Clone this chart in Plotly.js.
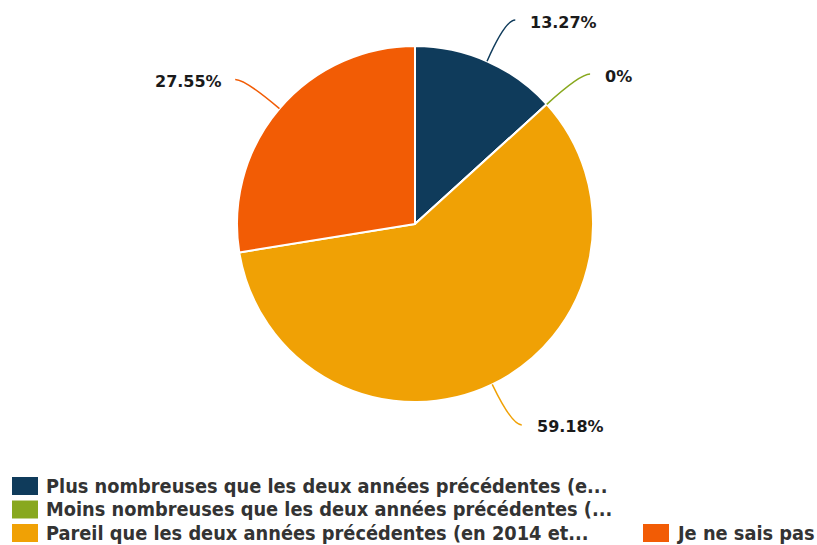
<!DOCTYPE html>
<html>
<head>
<meta charset="utf-8">
<script src="https://cdn.plot.ly/plotly-3.0.1.min.js"></script>
<style>html,body{margin:0;padding:0;background:#fff;}#chart{width:817px;height:545px;}</style>
</head>
<body>
<div id="chart"></div>
<script>
const categories = [
  "Plus nombreuses que les deux années précédentes (e...",
  "Moins nombreuses que les deux années précédentes (...",
  "Pareil que les deux années précédentes (en 2014 et...",
  "Je ne sais pas"
];
const counts = [13, 0, 58, 27];
const percentLabels = ["13.27%", "0%", "59.18%", "27.55%"];
const colors = ["#0f3b5b", "#88a81e", "#f0a105", "#f25c05"];

const W = 817, H = 545;
const cx = 415, cy = 224, R = 178;
const px = x => x / W;
const py = y => 1 - y / H;

const total = counts.reduce((a, b) => a + b, 0);
const shapes = [];
const annotations = [];

// leader lines + labels
let cum = 0;
counts.forEach((v, i) => {
  const mid = (cum + v / 2) / total * 2 * Math.PI;
  cum += v;
  const s = Math.sin(mid), c = -Math.cos(mid);
  const sx = cx + R * s, sy = cy + R * c;
  const qx = cx + (R + 45) * s, qy = cy + (R + 45) * c;
  const dir = s >= 0 ? 1 : -1;
  const ex = qx + dir * 10, ey = qy;
  shapes.push({
    type: "path", xref: "paper", yref: "paper",
    path: `M${px(sx)},${py(sy)} Q${px(qx)},${py(qy)} ${px(ex)},${py(ey)}`,
    line: {color: colors[i], width: 1.5}
  });
  annotations.push({
    xref: "paper", yref: "paper",
    x: px(ex + dir * (dir > 0 ? 13 : 11)), y: py(ey + 2),
    xanchor: dir > 0 ? "left" : "right", yanchor: "middle",
    text: percentLabels[i], showarrow: false,
    font: {family: "DejaVu Sans", size: 16, color: "#1a1a1a", weight: "bold"}
  });
});

// custom legend: first column holds three rows, the rest go bottom-aligned in a second column
const rowsPerCol = 3, rowY0 = 486, rowStep = 23.5, colX = [12, 643];
categories.forEach((name, i) => {
  const col = Math.floor(i / rowsPerCol);
  const inCol = col === 0 ? rowsPerCol : categories.length - rowsPerCol;
  const row = col === 0 ? i : rowsPerCol - inCol + (i - rowsPerCol);
  const yc = rowY0 + row * rowStep;
  const x0 = colX[col];
  shapes.push({
    type: "rect", xref: "paper", yref: "paper",
    x0: px(x0), x1: px(x0 + 26), y0: py(yc - 9), y1: py(yc + 9),
    fillcolor: colors[i], line: {width: 0}
  });
  annotations.push({
    xref: "paper", yref: "paper",
    x: px(x0 + 32), y: py(yc),
    xanchor: "left", yanchor: "middle",
    text: name, showarrow: false,
    font: {family: "DejaVu Sans Condensed", size: 19.8, color: "#333333", weight: "bold"}
  });
});

const data = [{
  type: "pie",
  labels: categories,
  values: counts,
  sort: false,
  direction: "clockwise",
  rotation: 0,
  textinfo: "none",
  hoverinfo: "label+percent",
  marker: {colors: colors, line: {color: "#ffffff", width: 2}},
  domain: {x: [px(cx - R), px(cx + R)], y: [py(cy + R), py(cy - R)]},
  showlegend: false
}];

const layout = {
  width: W, height: H,
  margin: {l: 0, r: 0, t: 0, b: 0},
  paper_bgcolor: "#ffffff",
  showlegend: false,
  shapes: shapes,
  annotations: annotations
};

Plotly.newPlot("chart", data, layout, {displayModeBar: false, staticPlot: true});
</script>
</body>
</html>
